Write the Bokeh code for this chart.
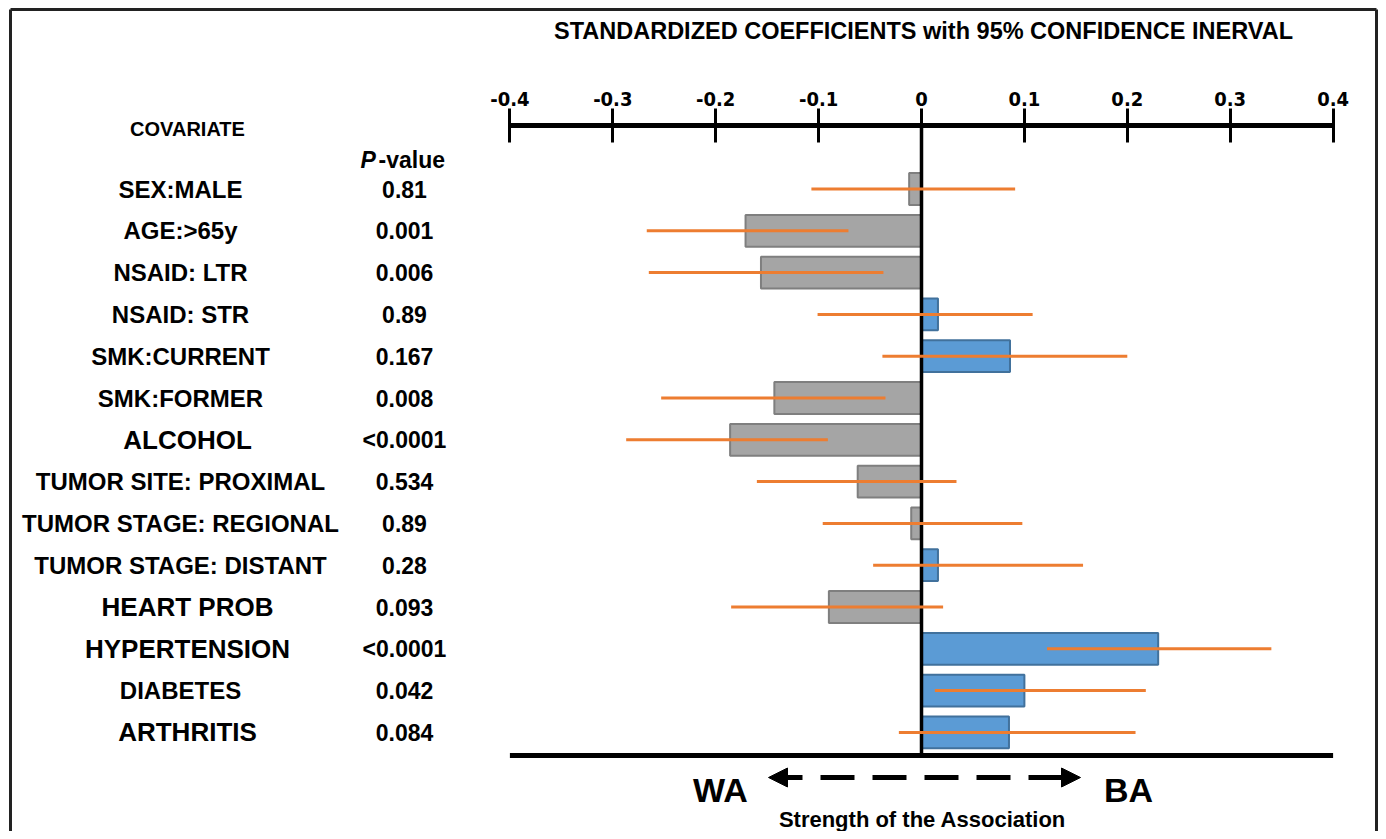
from bokeh.plotting import figure
from bokeh.models import Range1d, LinearAxis, FixedTicker, Arrow, NormalHead
from bokeh.core.properties import value
from bokeh.embed import file_html
from bokeh.resources import INLINE

# ---------------- data ----------------
covariates = ["SEX:MALE", "AGE:>65y", "NSAID: LTR", "NSAID: STR", "SMK:CURRENT",
              "SMK:FORMER", "ALCOHOL", "TUMOR SITE: PROXIMAL", "TUMOR STAGE: REGIONAL",
              "TUMOR STAGE: DISTANT", "HEART PROB", "HYPERTENSION", "DIABETES", "ARTHRITIS"]
p_values = ["0.81", "0.001", "0.006", "0.89", "0.167", "0.008", "<0.0001", "0.534",
            "0.89", "0.28", "0.093", "<0.0001", "0.042", "0.084"]
coef = [-0.012, -0.171, -0.156, 0.016, 0.086, -0.143, -0.186, -0.062, -0.010, 0.016,
        -0.090, 0.230, 0.100, 0.085]
ci_low = [-0.107, -0.267, -0.265, -0.101, -0.038, -0.253, -0.287, -0.160, -0.096,
          -0.047, -0.185, 0.122, 0.013, -0.022]
ci_high = [0.091, -0.071, -0.037, 0.108, 0.200, -0.035, -0.091, 0.034, 0.098, 0.157,
           0.021, 0.340, 0.218, 0.208]
tick_values = [-0.4, -0.3, -0.2, -0.1, 0.0, 0.1, 0.2, 0.3, 0.4]
tick_labels = ["-0.4", "-0.3", "-0.2", "-0.1", "0", "0.1", "0.2", "0.3", "0.4"]
emphasised = ["ALCOHOL", "HEART PROB", "HYPERTENSION", "ARTHRITIS"]

# ---------------- layout helpers (reference pixel -> data) ----------------
W, H = 1378, 831
X0_PX, X_SCALE = 921.0, 1029.0      # x of coefficient 0, px per unit
Y0_PX, ROW_PX = 188.5, 41.8         # y of first row, px per row


def X(px):
    return (px - X0_PX) / X_SCALE


def Y(py):
    return (py - Y0_PX) / ROW_PX


rows = list(range(len(covariates)))

p = figure(width=W, height=H, output_backend="svg", toolbar_location=None,
           x_range=Range1d(X(0), X(W)), y_range=Range1d(Y(H), Y(0)),
           min_border=0, x_axis_type=None, y_axis_type=None)
p.grid.visible = False
p.outline_line_color = None
p.background_fill_color = "white"
p.border_fill_color = "white"

FONT = value("Liberation Sans")
FRAME = "#222222"

# outer frame (left, top, right)
p.segment(x0=[X(10), X(10), X(W - 2)], x1=[X(10), X(W - 2), X(W - 2)],
          y0=[Y(H + 5), Y(9), Y(9)], y1=[Y(9), Y(9), Y(H + 5)],
          line_color=FRAME, line_width=3)

# bars
fills = ["#a5a5a5" if c < 0 else "#5b9bd5" for c in coef]
lines = ["#7f7f7f" if c < 0 else "#41719c" for c in coef]
p.hbar(y=rows, left=0, right=coef, height=0.76, fill_color=fills, line_color=lines,
       line_width=2)

# zero line
p.segment(x0=[0], x1=[0], y0=[Y(125)], y1=[Y(757)], line_color="black", line_width=3.5)

# confidence intervals
p.segment(x0=ci_low, x1=ci_high, y0=rows, y1=rows, line_color="#ed7d31", line_width=3)

# bottom baseline
p.segment(x0=[tick_values[0]], x1=[tick_values[-1]], y0=[Y(755)], y1=[Y(755)],
          line_color="black", line_width=5)

# top axis
ax = LinearAxis(fixed_location=Y(125), bounds=(tick_values[0], tick_values[-1]),
                ticker=FixedTicker(ticks=tick_values),
                major_label_overrides={v: l for v, l in zip(tick_values, tick_labels)})
ax.axis_line_width = 5
ax.axis_line_color = "black"
ax.major_tick_line_width = 3
ax.major_tick_out = 17
ax.major_tick_in = 17
ax.minor_tick_line_color = None
ax.major_label_text_font = "DejaVu Sans Condensed, Liberation Sans"
ax.major_label_text_font_style = "bold"
ax.major_label_text_font_size = "20px"
ax.major_label_text_color = "black"
ax.major_label_standoff = 3
p.add_layout(ax, "above")

# covariate labels
norm_idx = [i for i, c in enumerate(covariates) if c not in emphasised]
big_idx = [i for i, c in enumerate(covariates) if c in emphasised]
p.text(x=[X(180)] * len(norm_idx), y=[rows[i] for i in norm_idx],
       text=[covariates[i] for i in norm_idx], text_font=FONT, text_font_style="bold",
       text_font_size="24px", text_align="center", text_baseline="middle",
       text_color="black")
p.text(x=[X(187)] * len(big_idx), y=[rows[i] for i in big_idx],
       text=[covariates[i] for i in big_idx], text_font=FONT, text_font_style="bold",
       text_font_size="26px", text_align="center", text_baseline="middle",
       text_color="black")

# p-values
p.text(x=[X(404)] * len(rows), y=rows, text=p_values, text_font=FONT,
       text_font_style="bold", text_font_size="23px", text_align="center",
       text_baseline="middle", text_color="black")

# headers
p.text(x=[X(187)], y=[Y(128)], text=["COVARIATE"], text_font=FONT, text_font_style="bold",
       text_font_size="20px", text_align="center", text_baseline="middle")
p.text(x=[X(360)], y=[Y(159)], text=["P"], text_font=FONT, text_font_style="bold italic",
       text_font_size="23px", text_align="left", text_baseline="middle")
p.text(x=[X(378)], y=[Y(159)], text=["-value"], text_font=FONT, text_font_style="bold",
       text_font_size="23px", text_align="left", text_baseline="middle")
p.text(x=[X(923)], y=[Y(30)], text=["STANDARDIZED COEFFICIENTS with 95% CONFIDENCE INERVAL"],
       text_font=FONT, text_font_style="bold", text_font_size="23.5px", text_align="center",
       text_baseline="middle")

# bottom annotations
p.text(x=[X(720)], y=[Y(789)], text=["WA"], text_font=FONT, text_font_style="bold",
       text_font_size="34px", text_align="center", text_baseline="middle")
p.text(x=[X(1128)], y=[Y(789)], text=["BA"], text_font=FONT, text_font_style="bold",
       text_font_size="34px", text_align="center", text_baseline="middle")
p.text(x=[X(922)], y=[Y(819)], text=["Strength of the Association"], text_font=FONT,
       text_font_style="bold", text_font_size="22px", text_align="center",
       text_baseline="middle")
p.add_layout(Arrow(x_start=X(768), y_start=Y(777), x_end=X(1080), y_end=Y(777),
                   start=NormalHead(size=19, fill_color="black", line_color="black"),
                   end=NormalHead(size=19, fill_color="black", line_color="black"),
                   line_width=5, line_dash="34 18", line_color="black"))

open("out.html", "w").write(file_html(p, INLINE))
